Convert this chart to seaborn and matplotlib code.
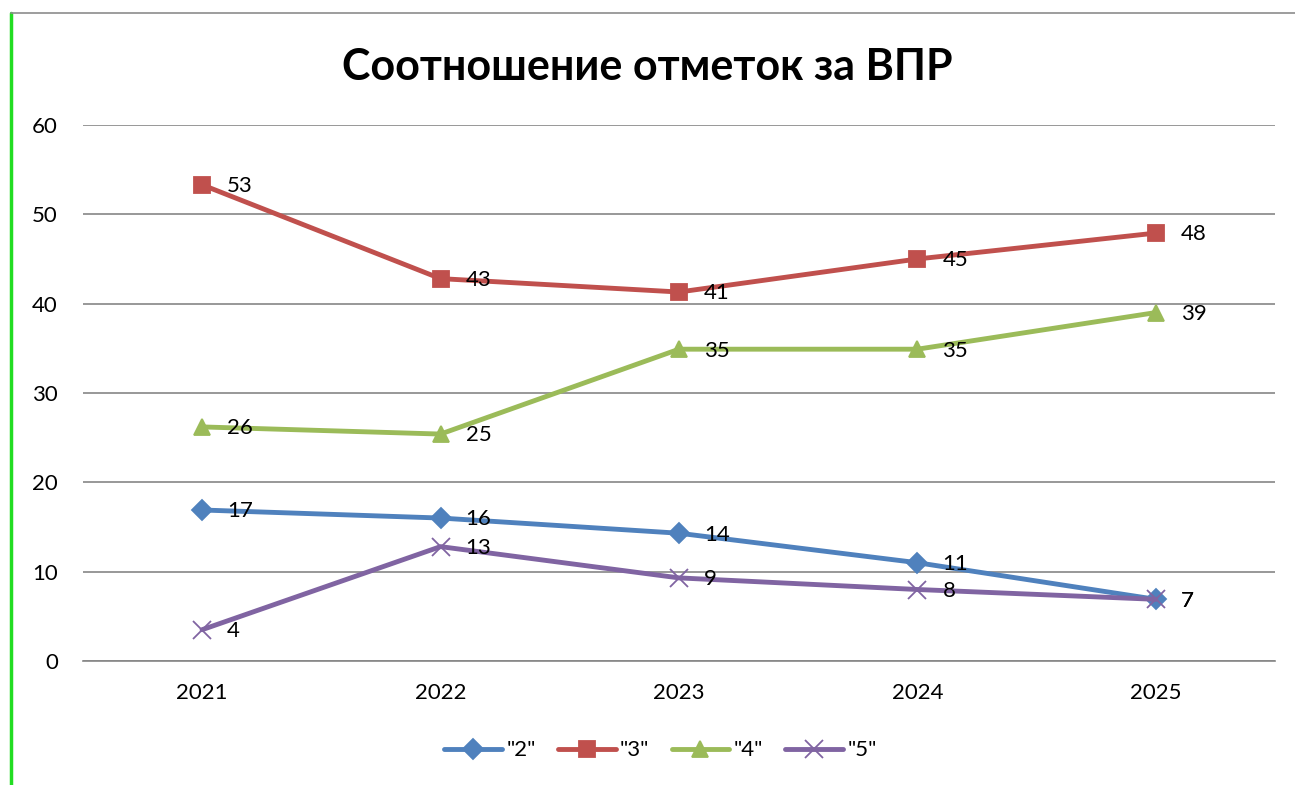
import pandas as pd
import seaborn as sns
import numpy as np
import matplotlib.pyplot as plt
from matplotlib.lines import Line2D

# values
years = ["2021", "2022", "2023", "2024", "2025"]
grade2 = [16.9, 16.0, 14.3, 11.0, 6.9]
grade3 = [53.3, 42.8, 41.3, 45.0, 47.9]
grade4 = [26.2, 25.4, 34.9, 34.9, 39.0]
grade5 = [3.5, 12.8, 9.3, 8.0, 6.9]
series_names = ['"2"', '"3"', '"4"', '"5"']

colors = {'"2"': "#4F81BD", '"3"': "#C0504D", '"4"': "#9BBB59", '"5"': "#8064A2"}
markers = {'"2"': "D", '"3"': "s", '"4"': "^", '"5"': "x"}
msizes = {'"2"': 10, '"3"': 12, '"4"': 12, '"5"': 13}

sns.set_style("white")
plt.rcParams['font.family'] = ['Lato', 'DejaVu Sans']
plt.rcParams['text.color'] = 'black'
plt.rcParams['xtick.color'] = 'black'
plt.rcParams['ytick.color'] = 'black'

fig = plt.figure(figsize=(12.95, 7.85), dpi=100)
ax = fig.add_axes([0.064, 0.158, 0.9206, 0.6828])

all_series = [grade2, grade3, grade4, grade5]
for name, vals in zip(series_names, all_series):
    df = pd.DataFrame({"year": years, "value": vals})
    sns.lineplot(data=df, x="year", y="value", color=colors[name], marker=markers[name],
                 markersize=msizes[name], markeredgecolor=colors[name], markeredgewidth=1.3,
                 linewidth=3.5, sort=False, ax=ax, label=name)

# data labels
for name, vals in zip(series_names, all_series):
    for i, v in enumerate(vals):
        ax.annotate(f"{v:.0f}", (i, v), xytext=(18, -1), textcoords="offset points",
                    va="center", ha="left", fontsize=16)

ax.set_xlim(-0.5, 4.5)
ax.set_ylim(0, 60)
ax.set_yticks(range(0, 61, 10))
ax.yaxis.grid(True, color="#868686", linewidth=1.2)
ax.set_axisbelow(True)
for s in ["top", "right", "left"]:
    ax.spines[s].set_visible(False)
ax.spines["bottom"].set_color("#868686")
ax.spines["bottom"].set_linewidth(1.2)
ax.tick_params(axis="both", length=0, labelsize=16)
ax.tick_params(axis="x", pad=16)
ax.tick_params(axis="y", pad=18)
ax.set_xlabel("")
ax.set_ylabel("")

fig.suptitle("Соотношение отметок за ВПР", fontsize=31, fontweight="bold", y=0.94)

handles, labels = ax.get_legend_handles_labels()
ax.get_legend().remove()
fig.legend(handles, labels, loc="center", bbox_to_anchor=(0.51, 0.044),
           ncol=4, frameon=False, fontsize=16, handlelength=2.6, columnspacing=1.0,
           handletextpad=0.2)

# chart frame edges
fig.add_artist(Line2D([0.0085, 0.0085], [0.0, 0.984], color="#22DD22", linewidth=2.5))
fig.add_artist(Line2D([0.0085, 1.0], [0.984, 0.984], color="#8C8C8C", linewidth=1.2))

fig.savefig("out.png", dpi=100)
